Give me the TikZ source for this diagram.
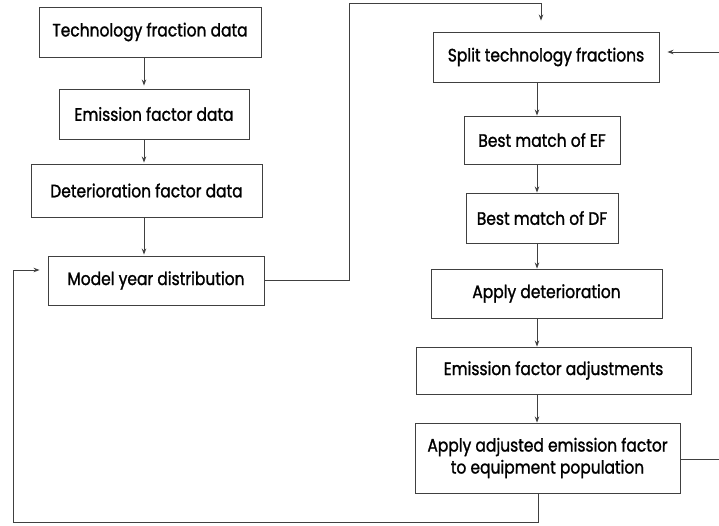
\documentclass[tikz,border=0pt]{standalone}
\usepackage{fontspec}
\setmainfont[FakeStretch=0.86,FakeBold=1.3]{Poppins}
\usetikzlibrary{arrows.meta}
\begin{document}
\begin{tikzpicture}[x=1pt,y=-1pt,
  box/.style={draw=black!75,line width=0.9pt,rectangle,inner sep=0pt,
    font=\fontsize{18}{22}\selectfont,align=center},
  link/.style={draw=black!75,line width=0.9pt},
  arr/.style={link,-{Stealth[length=6pt,width=4.5pt]}}]
\useasboundingbox (0,0) rectangle (719,525);

% left column: input data
\node[box,minimum width=222pt,minimum height=50pt] (tech) at (150,32) {Technology fraction data};
\node[box,minimum width=190pt,minimum height=50pt] (emis) at (154,114) {Emission factor data};
\node[box,minimum width=231pt,minimum height=53pt] (dete) at (146.5,190.5) {Deterioration factor data};
\node[box,minimum width=216pt,minimum height=49pt] (myd) at (156,280.5) {Model year distribution};

% right column: processing steps
\node[box,minimum width=226pt,minimum height=50pt] (split) at (546,57) {Split technology fractions};
\node[box,minimum width=156pt,minimum height=48pt] (bef) at (542,140) {Best match of EF};
\node[box,minimum width=152pt,minimum height=50pt] (bdf) at (542,218) {Best match of DF};
\node[box,minimum width=231pt,minimum height=49pt] (appd) at (546.5,293.5) {Apply deterioration};
\node[box,minimum width=275pt,minimum height=47pt] (adj) at (553.5,370.5) {Emission factor adjustments};
\node[box,minimum width=265pt,minimum height=70pt] (appe) at (547.5,458) {Apply adjusted emission factor\\to equipment population};

% guide coordinates for the connectors
\coordinate (lx) at (144,0);
\coordinate (rx) at (537,0);
\coordinate (topy) at (0,3);
\coordinate (c1) at (349,0);
\coordinate (c2) at (541,0);
\coordinate (fbx) at (13,0);
\coordinate (fby) at (0,270);
\coordinate (edgex) at (730,0);
\coordinate (sy) at (0,52);

% left column flow
\draw[arr,shorten >=3pt] (tech.south -| lx) -- (emis.north -| lx);
\draw[arr,shorten >=1pt] (emis.south -| lx) -- (dete.north -| lx);
\draw[arr,shorten >=1pt] (dete.south -| lx) -- (myd.north -| lx);

% model year distribution feeds the processing chain
\draw[arr,shorten >=11pt] (myd.east) -| (c1 |- topy) -| (c2 |- split.north);

% right column flow
\draw[arr] (split.south -| rx) -- (bef.north -| rx);
\draw[arr] (bef.south -| rx) -- (bdf.north -| rx);
\draw[arr] (bdf.south -| rx) -- (appd.north -| rx);
\draw[arr] (appd.south -| rx) -- (adj.north -| rx);
\draw[arr] (adj.south -| rx) -- (appe.north -| rx);

% loop back to the model year distribution
\draw[arr,shorten >=8pt] (appe.south -| 538,0) -- (538,522) -| (fbx |- fby) -- (myd.west |- fby);

% loop back to the technology split
\draw[arr,shorten >=8pt] (appe.east |- 0,459) -- (edgex |- 0,459) -- (edgex |- sy) -- (split.east |- sy);
\end{tikzpicture}
\end{document}
